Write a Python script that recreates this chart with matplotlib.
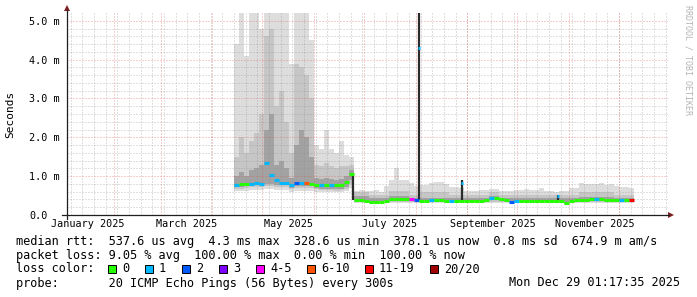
import datetime as dt

import matplotlib
matplotlib.use("Agg")
import matplotlib.pyplot as plt
import numpy as np
from matplotlib.lines import Line2D
from matplotlib.patches import Polygon, Rectangle

W, H = 697, 297
MONO = "DejaVu Sans Mono"

# time axis in days since 2025-01-01
view_start, view_end = 2.9, 363.5
data_start = 103.0      # first sample (mid April)
step_days = 3.0

# smoke quantiles per 3-day step, in ms
hi = [4.4, 5.5, 4.1, 5.5, 5.5, 4.8, 5.5, 5.5,
      5.5, 5.5, 5.2, 3.9, 5.5, 5.5, 5.5, 4.5,
      1.8, 1.7, 2.2, 1.7, 1.6, 1.9, 1.55, 1.5,
      0.62, 0.65, 0.62, 0.62, 0.65, 0.60, 0.75, 0.90,
      1.20, 0.90, 0.90, 0.82, 0.75, 0.77, 0.78, 0.82,
      0.85, 0.85, 0.80, 0.73, 0.72, 0.70, 0.63, 0.63,
      0.63, 0.65, 0.65, 0.67, 0.67, 0.62, 0.62, 0.62,
      0.65, 0.65, 0.68, 0.65, 0.65, 0.69, 0.62, 0.62,
      0.60, 0.62, 0.62, 0.69, 0.69, 0.82, 0.80, 0.80,
      0.80, 0.82, 0.78, 0.80, 0.74, 0.72, 0.72, 0.70]
p90 = [1.5, 2.0, 1.6, 1.9, 2.1, 2.6, 4.6, 4.8,
       2.8, 3.2, 2.4, 1.6, 3.9, 3.8, 3.6, 3.0,
       1.3, 1.25, 1.35, 1.25, 1.2, 1.25, 1.25, 1.3,
       0.60, 0.60, 0.60, 0.52, 0.52, 0.52, 0.52, 0.62,
       0.62, 0.62, 0.62, 0.52, 0.52, 0.58, 0.58, 0.58,
       0.58, 0.58, 0.58, 0.52, 0.52, 0.52, 0.52, 0.52,
       0.52, 0.52, 0.52, 0.58, 0.58, 0.52, 0.52, 0.52,
       0.52, 0.52, 0.52, 0.52, 0.52, 0.52, 0.52, 0.52,
       0.52, 0.52, 0.52, 0.52, 0.52, 0.58, 0.58, 0.58,
       0.58, 0.58, 0.58, 0.58, 0.52, 0.52, 0.52, 0.52]
p75 = [1.0, 1.1, 1.0, 1.15, 1.2, 1.3, 2.2, 2.6,
       1.3, 1.4, 1.2, 0.95, 1.8, 2.2, 2.0, 1.5,
       0.95, 0.92, 0.95, 0.92, 0.9, 0.92, 1.0, 1.15,
       0.50, 0.50, 0.50, 0.45, 0.45, 0.45, 0.45, 0.50,
       0.50, 0.50, 0.50, 0.45, 0.45, 0.45, 0.45, 0.45,
       0.45, 0.45, 0.45, 0.45, 0.45, 0.45, 0.45, 0.45,
       0.45, 0.45, 0.45, 0.50, 0.50, 0.45, 0.45, 0.45,
       0.45, 0.45, 0.45, 0.45, 0.45, 0.45, 0.45, 0.45,
       0.45, 0.45, 0.45, 0.45, 0.45, 0.47, 0.47, 0.47,
       0.47, 0.47, 0.47, 0.47, 0.45, 0.45, 0.45, 0.45]
p25 = [0.72, 0.72, 0.74, 0.76, 0.78, 0.76, 0.80, 0.80,
       0.78, 0.78, 0.76, 0.70, 0.74, 0.74, 0.75, 0.74,
       0.70, 0.68, 0.68, 0.68, 0.67, 0.68, 0.72, 0.90,
       0.35, 0.35, 0.35, 0.31, 0.31, 0.35, 0.35, 0.37,
       0.37, 0.37, 0.37, 0.35, 0.35, 0.35, 0.35, 0.35,
       0.35, 0.35, 0.35, 0.35, 0.35, 0.35, 0.35, 0.35,
       0.35, 0.35, 0.35, 0.38, 0.38, 0.35, 0.35, 0.35,
       0.35, 0.35, 0.35, 0.35, 0.35, 0.35, 0.35, 0.35,
       0.35, 0.35, 0.30, 0.35, 0.35, 0.35, 0.35, 0.35,
       0.35, 0.35, 0.35, 0.35, 0.35, 0.35, 0.35, 0.35]
p10 = [0.68, 0.68, 0.70, 0.71, 0.72, 0.71, 0.74, 0.74,
       0.73, 0.72, 0.71, 0.66, 0.69, 0.69, 0.70, 0.69,
       0.66, 0.64, 0.64, 0.64, 0.63, 0.64, 0.68, 0.80,
       0.33, 0.33, 0.33, 0.30, 0.30, 0.33, 0.33, 0.33,
       0.33, 0.33, 0.33, 0.33, 0.33, 0.33, 0.33, 0.33,
       0.33, 0.33, 0.33, 0.33, 0.33, 0.33, 0.33, 0.33,
       0.33, 0.33, 0.33, 0.33, 0.33, 0.33, 0.33, 0.33,
       0.33, 0.33, 0.33, 0.33, 0.33, 0.33, 0.33, 0.33,
       0.33, 0.33, 0.29, 0.33, 0.33, 0.33, 0.33, 0.33,
       0.33, 0.33, 0.33, 0.33, 0.33, 0.33, 0.33, 0.33]
lo = [0.62, 0.62, 0.63, 0.64, 0.65, 0.64, 0.66, 0.66,
      0.65, 0.64, 0.64, 0.60, 0.62, 0.62, 0.63, 0.62,
      0.60, 0.59, 0.59, 0.59, 0.58, 0.59, 0.62, 0.70,
      0.30, 0.30, 0.30, 0.28, 0.28, 0.30, 0.30, 0.30,
      0.30, 0.30, 0.30, 0.30, 0.30, 0.30, 0.30, 0.30,
      0.30, 0.30, 0.30, 0.30, 0.30, 0.30, 0.30, 0.30,
      0.30, 0.30, 0.30, 0.30, 0.30, 0.30, 0.30, 0.30,
      0.30, 0.30, 0.30, 0.30, 0.30, 0.30, 0.30, 0.30,
      0.30, 0.30, 0.27, 0.30, 0.30, 0.30, 0.30, 0.30,
      0.30, 0.30, 0.30, 0.30, 0.30, 0.30, 0.30, 0.30]
median = [0.77, 0.79, 0.80, 0.80, 0.82, 0.80, 1.34, 1.04,
          0.89, 0.82, 0.82, 0.77, 0.82, 0.82, 0.82, 0.80,
          0.78, 0.76, 0.76, 0.76, 0.76, 0.76, 0.86, 1.06,
          0.39, 0.39, 0.36, 0.33, 0.33, 0.34, 0.37, 0.41,
          0.41, 0.41, 0.41, 0.40, 0.38, 0.37, 0.37, 0.38,
          0.38, 0.38, 0.37, 0.37, 0.37, 0.36, 0.35, 0.35,
          0.35, 0.35, 0.38, 0.43, 0.44, 0.41, 0.38, 0.34,
          0.35, 0.37, 0.37, 0.37, 0.37, 0.37, 0.37, 0.37,
          0.36, 0.36, 0.32, 0.37, 0.38, 0.38, 0.39, 0.40,
          0.41, 0.40, 0.38, 0.38, 0.38, 0.38, 0.38, 0.38]
# pings lost out of 20 per step
lost = [1, 0, 0, 1, 1, 1, 1, 1,
        1, 1, 1, 1, 2, 1, 8, 0,
        0, 1, 0, 1, 0, 0, 0, 0,
        0, 0, 0, 0, 0, 0, 0, 0,
        0, 0, 0, 5, 2, 0, 0, 1,
        0, 0, 0, 1, 0, 0, 0, 0,
        0, 0, 0, 1, 0, 0, 0, 2,
        1, 0, 0, 0, 0, 0, 0, 0,
        0, 0, 0, 0, 0, 0, 0, 0,
        1, 0, 0, 0, 0, 1, 0, 15]

# short single-sample spikes
spike_day = [174.6, 214.0, 240.0, 297.5]
spike_lo = [0.39, 0.38, 0.38, 0.34]
spike_hi = [1.06, 5.5, 0.90, 0.52]
spike_med = [np.nan, 4.30, 0.83, 0.50]
spike_lost = [0, 1, 1, 1]

loss_labels = ["0", "1", "2", "3", "4-5", "6-10", "11-19", "20/20"]
loss_upper = [0, 1, 2, 3, 5, 10, 19, 20]
loss_colors = ["#26ff00", "#00b8ff", "#0059ff", "#7e00ff",
               "#ff00ff", "#ff5500", "#ff0000", "#a00000"]

month_names = ["January 2025", "March 2025", "May 2025",
               "July 2025", "September 2025", "November 2025"]

stats_rtt = "median rtt:  537.6 us avg  4.3 ms max  328.6 us min  378.1 us now  0.8 ms sd  674.9 m am/s"
stats_loss = "packet loss: 9.05 % avg  100.00 % max  0.00 % min  100.00 % now"
probe_text = "probe:       20 ICMP Echo Pings (56 Bytes) every 300s"
stamp_text = "Mon Dec 29 01:17:35 2025"


def loss_color(n):
    for up, c in zip(loss_upper, loss_colors):
        if n <= up:
            return c
    return loss_colors[-1]


def fx(px):
    return px / W


def fy(py):
    return 1 - py / H


T0 = dt.date(2025, 1, 1)
month_start = [(dt.date(2025, m, 1) - T0).days for m in range(1, 13)] + [365]
mondays = np.arange(5, 366, 7)

fig = plt.figure(figsize=(W / 100, H / 100), dpi=100)
fig.patch.set_facecolor("white")
ax = fig.add_axes([fx(67), fy(215), fx(668) - fx(67), fy(13) - fy(215)])
ax.set_xlim(view_start, view_end)
ax.set_ylim(0, 5.2)
for s in ax.spines.values():
    s.set_visible(False)

# smoke
n = len(median)
edges = data_start + step_days * np.arange(n + 1)
ext = lambda a: np.append(a, a[-1])
ax.fill_between(edges, ext(lo), ext(hi), step="post", color="#dddddd", lw=0, zorder=1)
ax.fill_between(edges, ext(p10), ext(p90), step="post", color="#c6c6c6", lw=0, zorder=1.1)
ax.fill_between(edges, ext(p25), ext(p75), step="post", color="#a2a2a2", lw=0, zorder=1.2)

# grid
grid_c = (0.56, 0.56, 0.56, 0.55)
mgrid_c = (0.87, 0.31, 0.31, 0.55)
for d in mondays:
    if view_start < d < view_end:
        ax.axvline(d, color=grid_c, lw=0.72, ls=(0, (1, 2)), zorder=2)
for v in np.arange(0.2, 5.2, 0.2):
    if abs(v - round(v)) > 1e-6:
        ax.axhline(v, color=grid_c, lw=0.72, ls=(0, (1, 2)), zorder=2)
for d in month_start:
    if view_start < d < view_end:
        ax.axvline(d, color=mgrid_c, lw=0.72, ls=(0, (1, 2)), zorder=2.1)
for v in range(1, 6):
    ax.axhline(v, color=mgrid_c, lw=0.72, ls=(0, (1, 2)), zorder=2.1)

# spikes
ax.vlines(spike_day, spike_lo, spike_hi, color="#2b2b2b", lw=1.6, zorder=2.5)
for d, m, l in zip(spike_day, spike_med, spike_lost):
    if not np.isnan(m):
        ax.hlines(m, d - 0.6, d + 0.6, color=loss_color(l), lw=2.2, zorder=3)

# median coloured by loss
ax.hlines(median, edges[:-1], edges[1:], colors=[loss_color(l) for l in lost],
          lw=2.2, zorder=3)

# ticks
ax.set_yticks(range(6))
ax.set_yticklabels(["0.0", "1.0 m", "2.0 m", "3.0 m", "4.0 m", "5.0 m"],
                   family=MONO, fontsize=7.3)
for lab in ax.get_yticklabels():
    lab.set_horizontalalignment("left")
ax.tick_params(axis="y", length=0, pad=27.4)
label_days = [month_start[i] + 15.5 for i in (0, 2, 4, 6, 8, 10)]
ax.set_xticks(label_days)
ax.set_xticklabels(month_names, family=MONO, fontsize=7.3)
ax.tick_params(axis="x", length=0, pad=3.0)

# axes + arrows
axis_c = (0.12, 0.12, 0.12)
arrow_c = (0.5, 0.12, 0.12)
fig.add_artist(Line2D([fx(62), fx(669)], [fy(215), fy(215)], color=axis_c, lw=0.9))
fig.add_artist(Line2D([fx(67), fx(67)], [fy(219), fy(10)], color=axis_c, lw=0.9))
fig.add_artist(Polygon([(fx(668), fy(212)), (fx(668), fy(218)), (fx(674), fy(215))],
                       closed=True, color=arrow_c, lw=0))
fig.add_artist(Polygon([(fx(64), fy(11)), (fx(70), fy(11)), (fx(67), fy(5))],
                       closed=True, color=arrow_c, lw=0))

fig.text(fx(10), fy(114), "Seconds", rotation=90, family=MONO, fontsize=8,
         ha="center", va="center")
fig.text(fx(688), fy(5), "RRDTOOL / TOBI OETIKER", rotation=-90, family=MONO,
         fontsize=6, color="#b4b4b4", ha="center", va="top")

# legend rows
fs = 8.55
fig.text(fx(16), fy(241), stats_rtt, family=MONO, fontsize=fs, va="center")
fig.text(fx(16), fy(255), stats_loss, family=MONO, fontsize=fs, va="center")
fig.text(fx(16), fy(269), "loss color:", family=MONO, fontsize=fs, va="center")
bx = 108
for lab, c in zip(loss_labels, loss_colors):
    fig.add_artist(Rectangle((fx(bx), fy(273)), fx(8), 8 / H, facecolor=c,
                             edgecolor="black", lw=0.7))
    fig.text(fx(bx + 14), fy(269), lab, family=MONO, fontsize=fs, va="center")
    bx += 14 + 7 * len(lab) + 16
fig.text(fx(16), fy(283), probe_text, family=MONO, fontsize=fs, va="center")
fig.text(fx(680), fy(283), stamp_text, family=MONO, fontsize=fs, va="center", ha="right")

fig.savefig("out.png", dpi=100, facecolor="white")
